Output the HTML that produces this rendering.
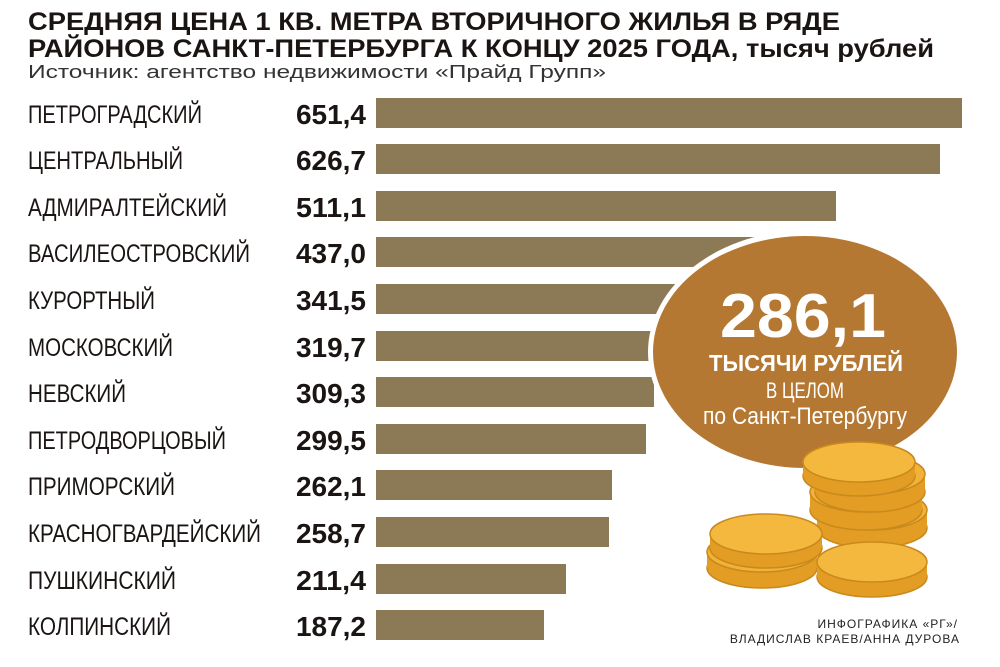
<!DOCTYPE html>
<html><head><meta charset="utf-8"><style>
html,body{margin:0;padding:0;background:#fff;}
svg{display:block;}
.t{font-family:"Liberation Sans","DejaVu Sans",sans-serif;font-weight:bold;font-size:25px;fill:#1a1412;}
.s{font-family:"Liberation Sans","DejaVu Sans",sans-serif;font-size:18px;fill:#333;}
.l{font-family:"Liberation Sans Narrow","Liberation Sans",sans-serif;font-size:25px;fill:#1a1412;}
.v{font-family:"Liberation Sans Narrow","Liberation Sans",sans-serif;font-weight:bold;font-size:28px;fill:#1a1412;}
.w{font-family:"Liberation Sans Narrow","Liberation Sans",sans-serif;fill:#fff;}
.c{font-family:"Liberation Sans","DejaVu Sans",sans-serif;font-size:12px;fill:#222;letter-spacing:1px;}
</style></head><body>
<svg width="1000" height="667" viewBox="0 0 1000 667" xmlns="http://www.w3.org/2000/svg">
<text class="t" x="28" y="30" textLength="812" lengthAdjust="spacingAndGlyphs">СРЕДНЯЯ ЦЕНА 1 КВ. МЕТРА ВТОРИЧНОГО ЖИЛЬЯ В РЯДЕ</text>
<text class="t" x="28" y="57" textLength="906" lengthAdjust="spacingAndGlyphs">РАЙОНОВ САНКТ-ПЕТЕРБУРГА К КОНЦУ 2025 ГОДА, тысяч рублей</text>
<text class="s" x="28" y="78" textLength="578" lengthAdjust="spacingAndGlyphs">Источник: агентство недвижимости «Прайд Групп»</text>
<g fill="#8b7a55">
<rect x="376" y="98" width="586" height="30"/>
<rect x="376" y="144" width="564" height="30"/>
<rect x="376" y="191" width="460" height="30"/>
<rect x="376" y="237" width="393" height="30"/>
<rect x="376" y="284" width="307" height="30"/>
<rect x="376" y="331" width="288" height="30"/>
<rect x="376" y="377" width="278" height="30"/>
<rect x="376" y="424" width="270" height="30"/>
<rect x="376" y="470" width="236" height="30"/>
<rect x="376" y="517" width="233" height="30"/>
<rect x="376" y="564" width="190" height="30"/>
<rect x="376" y="610" width="168" height="30"/>
</g>
<g class="l">
<text x="28" y="123" textLength="174" lengthAdjust="spacingAndGlyphs">ПЕТРОГРАДСКИЙ</text>
<text x="28" y="169" textLength="155" lengthAdjust="spacingAndGlyphs">ЦЕНТРАЛЬНЫЙ</text>
<text x="28" y="216" textLength="199" lengthAdjust="spacingAndGlyphs">АДМИРАЛТЕЙСКИЙ</text>
<text x="28" y="262" textLength="222" lengthAdjust="spacingAndGlyphs">ВАСИЛЕОСТРОВСКИЙ</text>
<text x="28" y="309" textLength="127" lengthAdjust="spacingAndGlyphs">КУРОРТНЫЙ</text>
<text x="28" y="356" textLength="145" lengthAdjust="spacingAndGlyphs">МОСКОВСКИЙ</text>
<text x="28" y="402" textLength="98" lengthAdjust="spacingAndGlyphs">НЕВСКИЙ</text>
<text x="28" y="449" textLength="198" lengthAdjust="spacingAndGlyphs">ПЕТРОДВОРЦОВЫЙ</text>
<text x="28" y="495" textLength="147" lengthAdjust="spacingAndGlyphs">ПРИМОРСКИЙ</text>
<text x="28" y="542" textLength="233" lengthAdjust="spacingAndGlyphs">КРАСНОГВАРДЕЙСКИЙ</text>
<text x="28" y="589" textLength="148" lengthAdjust="spacingAndGlyphs">ПУШКИНСКИЙ</text>
<text x="28" y="635" textLength="143" lengthAdjust="spacingAndGlyphs">КОЛПИНСКИЙ</text>
</g>
<g class="v">
<text x="296" y="124" textLength="70" lengthAdjust="spacingAndGlyphs">651,4</text>
<text x="296" y="170" textLength="70" lengthAdjust="spacingAndGlyphs">626,7</text>
<text x="296" y="217" textLength="70" lengthAdjust="spacingAndGlyphs">511,1</text>
<text x="296" y="263" textLength="70" lengthAdjust="spacingAndGlyphs">437,0</text>
<text x="296" y="310" textLength="70" lengthAdjust="spacingAndGlyphs">341,5</text>
<text x="296" y="357" textLength="70" lengthAdjust="spacingAndGlyphs">319,7</text>
<text x="296" y="403" textLength="70" lengthAdjust="spacingAndGlyphs">309,3</text>
<text x="296" y="450" textLength="70" lengthAdjust="spacingAndGlyphs">299,5</text>
<text x="296" y="496" textLength="70" lengthAdjust="spacingAndGlyphs">262,1</text>
<text x="296" y="543" textLength="70" lengthAdjust="spacingAndGlyphs">258,7</text>
<text x="296" y="590" textLength="70" lengthAdjust="spacingAndGlyphs">211,4</text>
<text x="296" y="636" textLength="70" lengthAdjust="spacingAndGlyphs">187,2</text>
</g>
<ellipse cx="808" cy="352" rx="160" ry="122" fill="#fff"/>
<ellipse cx="805" cy="352" rx="152" ry="116" fill="#b57833"/>
<text class="w" x="720" y="337" font-size="62" font-weight="bold" textLength="166" lengthAdjust="spacingAndGlyphs">286,1</text>
<text class="w" x="709" y="371" font-size="23" font-weight="bold" textLength="194" lengthAdjust="spacingAndGlyphs">ТЫСЯЧИ РУБЛЕЙ</text>
<text class="w" x="766" y="398" font-size="22" textLength="78" lengthAdjust="spacingAndGlyphs">В ЦЕЛОМ</text>
<text class="w" x="703" y="424" font-size="24" textLength="204" lengthAdjust="spacingAndGlyphs">по Санкт-Петербургу</text>
<g stroke="#c98a1c" stroke-width="1.5">
<g fill="#e39c24"><ellipse cx="872" cy="528" rx="55" ry="20"/><rect x="817" y="510" width="110" height="18" stroke="none"/></g><ellipse cx="872" cy="510" rx="55" ry="20" fill="#f2b23a"/>
<g fill="#e39c24"><ellipse cx="866" cy="510" rx="56" ry="20"/><rect x="810" y="492" width="112" height="18" stroke="none"/></g><ellipse cx="866" cy="492" rx="56" ry="20" fill="#f2b23a"/>
<g fill="#e39c24"><ellipse cx="870" cy="492" rx="55" ry="20"/><rect x="815" y="474" width="110" height="18" stroke="none"/></g><ellipse cx="870" cy="474" rx="55" ry="20" fill="#f2b23a"/>
<g fill="#e39c24"><ellipse cx="859" cy="476" rx="56" ry="20"/><rect x="803" y="462" width="112" height="14" stroke="none"/></g><ellipse cx="859" cy="462" rx="56" ry="20" fill="#f4b83f"/>
<g fill="#e39c24"><ellipse cx="762" cy="568" rx="55" ry="20"/><rect x="707" y="552" width="110" height="16" stroke="none"/></g><ellipse cx="762" cy="552" rx="55" ry="20" fill="#f2b23a"/>
<g fill="#e39c24"><ellipse cx="766" cy="548" rx="56" ry="20"/><rect x="710" y="534" width="112" height="14" stroke="none"/></g><ellipse cx="766" cy="534" rx="56" ry="20" fill="#f4b83f"/>
<g fill="#e39c24"><ellipse cx="872" cy="577" rx="55" ry="20"/><rect x="817" y="562" width="110" height="15" stroke="none"/></g><ellipse cx="872" cy="562" rx="55" ry="20" fill="#f4b83f"/>
</g>
<text class="c" x="958" y="628" text-anchor="end">ИНФОГРАФИКА «РГ»/</text>
<text class="c" x="960" y="643" text-anchor="end">ВЛАДИСЛАВ КРАЕВ/АННА ДУРОВА</text>
</svg>
</body></html>
